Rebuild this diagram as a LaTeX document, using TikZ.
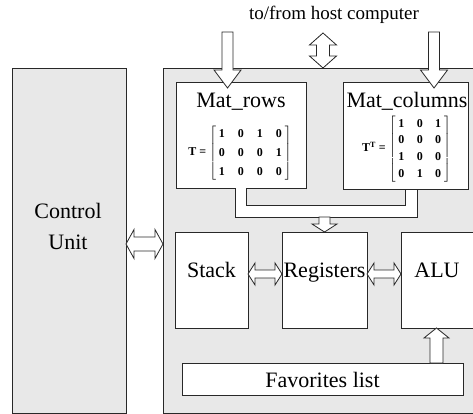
\documentclass[tikz,border=0pt]{standalone}
\usepackage{fontspec}
\setmainfont{Liberation Serif}
\usetikzlibrary{calc}

\definecolor{panel}{RGB}{232,232,232}
\definecolor{edge}{RGB}{40,40,40}

\tikzset{
  shaftw/.store in=\shaftw, headw/.store in=\headw, headl/.store in=\headl,
  shaftw=5, headw=13, headl=12,
  fat/.style={draw=edge, fill=white, line width=0.8pt},
  oneway/.style={fat, to path={
    let \p1=(\tikztostart), \p2=(\tikztotarget),
        \n1={veclen(\x2-\x1,\y2-\y1)}, \n2={atan2(\y2-\y1,\x2-\x1)} in
    [shift={(\p1)}, rotate=\n2, x=1pt, y=1pt]
    (0,-\shaftw) -- (\n1-\headl,-\shaftw) -- (\n1-\headl,-\headw) -- (\n1,0)
    -- (\n1-\headl,\headw) -- (\n1-\headl,\shaftw) -- (0,\shaftw) -- cycle}},
  twoway/.style={fat, to path={
    let \p1=(\tikztostart), \p2=(\tikztotarget),
        \n1={veclen(\x2-\x1,\y2-\y1)}, \n2={atan2(\y2-\y1,\x2-\x1)} in
    [shift={(\p1)}, rotate=\n2, x=1pt, y=1pt]
    (\headl,-\shaftw) -- (\n1-\headl,-\shaftw) -- (\n1-\headl,-\headw) -- (\n1,0)
    -- (\n1-\headl,\headw) -- (\n1-\headl,\shaftw) -- (\headl,\shaftw)
    -- (\headl,\headw) -- (0,0) -- (\headl,-\headw) -- cycle}}
}

\begin{document}
\begin{tikzpicture}[x=1pt, y=-1pt,
    unit/.style={draw=edge, fill=panel, line width=0.8pt, inner sep=0pt, outer sep=0pt, anchor=north west},
    block/.style={draw=edge, fill=white, line width=0.8pt, inner sep=0pt, outer sep=0pt, anchor=north west},
    lbl/.style={anchor=base, inner sep=0pt, font=\fontsize{22}{26}\selectfont},
    mat/.style={inner sep=0pt, font=\bfseries\fontsize{12}{14}\selectfont}]
  \useasboundingbox (0,0) rectangle (473,414);
  \clip (0,0) rectangle (473,414);

  % units
  \node[unit, minimum width=114pt, minimum height=345pt] (cu) at (12,68) {};
  \node[unit, minimum width=330pt, minimum height=345pt] (main) at (163,68) {};

  % blocks
  \node[block, minimum width=130pt, minimum height=106pt] (rows) at (176,82) {};
  \node[block, minimum width=125pt, minimum height=107pt] (cols) at (343,82) {};
  \node[block, minimum width=73pt, minimum height=96pt] (stack) at (175,232) {};
  \node[block, minimum width=85pt, minimum height=96pt] (regs) at (282,232) {};
  \node[block, minimum width=90pt, minimum height=96pt] (alu) at (401,232) {};
  \node[block, minimum width=281pt, minimum height=32pt] (fav) at (182,363) {};

  % texts
  \node[lbl, font=\fontsize{19}{22}\selectfont] at (334,19.5) {to/from host computer};
  \node[lbl] at (68,218) {Control};
  \node[lbl] at (68,249) {Unit};
  \node[lbl] at (241,108) {Mat\_rows};
  \node[lbl] at (407,108) {Mat\_columns};
  \node[lbl] at (211.5,277.5) {Stack};
  \node[lbl] at (324.5,277.5) {Registers};
  \node[lbl] at (437,277.5) {ALU};
  \node[lbl] at (322.5,387) {Favorites list};

  % matrices
  \node[mat] (T) at (240,153) {\renewcommand{\arraystretch}{1.35}\setlength{\tabcolsep}{6.5pt}%
    T = $\left[\begin{tabular}{@{\hspace{3pt}}cccc@{\hspace{3pt}}}
      1 & 0 & 1 & 0\\ 0 & 0 & 0 & 1\\ 1 & 0 & 0 & 0
    \end{tabular}\right]$};
  \node[mat] (TT) at (406.5,149) {\renewcommand{\arraystretch}{1.2}\setlength{\tabcolsep}{6.2pt}%
    T\textsuperscript{T} = $\left[\begin{tabular}{@{\hspace{3pt}}ccc@{\hspace{3pt}}}
      1 & 0 & 1\\ 0 & 0 & 0\\ 1 & 0 & 0\\ 0 & 1 & 0
    \end{tabular}\right]$};

  % host links
  \coordinate (hostL) at (227.5,32);
  \coordinate (hostLtip) at (227.5,88);
  \coordinate (hostR) at (434,32);
  \coordinate (hostRtip) at (434,88);
  \coordinate (host) at (323,33);
  \draw[oneway, shaftw=5.5, headw=13.5, headl=18] (hostL) to (hostLtip);
  \draw[oneway, shaftw=5.5, headw=13.5, headl=18] (hostR) to (hostRtip);
  \draw[twoway, shaftw=6.5, headw=13.5, headl=12] (host) to (host |- main.north);

  % control link
  \coordinate (link) at (0,244);
  \draw[twoway, shaftw=7, headw=14.5, headl=8] (cu.east |- link) to (main.west |- link);

  % bus from the matrices
  \coordinate (bus) at (0,205);
  \draw[fat] ([xshift=-6pt]rows.south) -- ++(0,29) -| ([xshift=12pt]cols.south)
    -- ++(-12,0) |- ([xshift=5pt]rows.south |- bus) -- ([xshift=5pt]rows.south);
  \coordinate (drop) at (324.5,217);
  \draw[oneway, shaftw=5.5, headw=12.5, headl=8] (drop) to (drop |- regs.north);

  % inner links
  \draw[twoway, shaftw=4, headw=11, headl=7] ([yshift=6pt]stack.east) to ([yshift=6pt]regs.west);
  \draw[twoway, shaftw=4, headw=11, headl=7] ([yshift=6pt]regs.east) to ([yshift=6pt]alu.west);
  \coordinate (feed) at (436.5,0);
  \draw[oneway, shaftw=6.5, headw=12.5, headl=10] (fav.north -| feed) to (alu.south -| feed);
\end{tikzpicture}
\end{document}
